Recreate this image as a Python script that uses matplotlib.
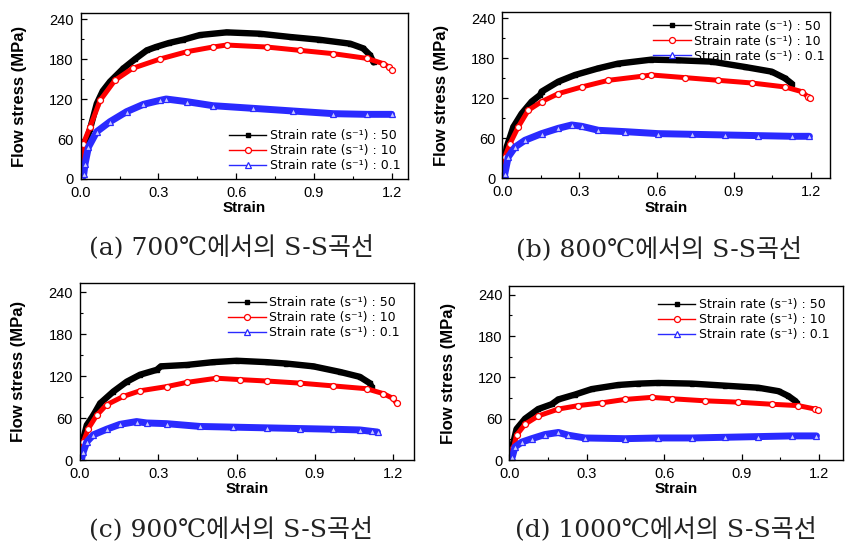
import matplotlib
matplotlib.use("Agg")
import matplotlib.pyplot as plt
from matplotlib.ticker import MultipleLocator

plt.rcParams['font.family'] = ['Liberation Sans', 'DejaVu Sans']

# ---------------- data ----------------
labels = ["Strain rate (s⁻¹) : 50", "Strain rate (s⁻¹) : 10", "Strain rate (s⁻¹) : 0.1"]
captions = ["(a) 700℃에서의 S-S곡선", "(b) 800℃에서의 S-S곡선",
            "(c) 900℃에서의 S-S곡선", "(d) 1000℃에서의 S-S곡선"]
x_ticks = [0.0, 0.3, 0.6, 0.9, 1.2]
y_ticks = [0, 60, 120, 180, 240]

# (a) 700 C
a50_x = [0.0, 0.008, 0.02, 0.036, 0.062, 0.085, 0.113, 0.165, 0.21, 0.255, 0.29, 0.34, 0.396, 0.46, 0.563, 0.69, 0.81, 0.92, 1.04, 1.09, 1.116, 1.13]
a50_y = [0, 35, 55, 75, 113, 132, 146, 166, 180, 193, 198, 204, 209, 216, 220, 218, 213, 209, 203, 196, 186, 175]
a10_x = [0.0, 0.01, 0.036, 0.075, 0.132, 0.2, 0.306, 0.41, 0.51, 0.563, 0.718, 0.846, 0.975, 1.104, 1.168, 1.19, 1.203]
a10_y = [0, 53, 78, 118, 148, 166, 180, 191, 198, 201, 198, 193, 188, 181, 173, 168, 163]
a01_x = [0.005, 0.012, 0.017, 0.03, 0.062, 0.113, 0.177, 0.242, 0.306, 0.33, 0.41, 0.51, 0.666, 0.82, 0.975, 1.104, 1.2]
a01_y = [0, 8, 23, 48, 71, 86, 101, 112, 118, 120, 116, 110, 106, 102, 98, 97, 97]

# (b) 800 C
b50_x = [0.0, 0.017, 0.043, 0.075, 0.114, 0.147, 0.153, 0.218, 0.283, 0.374, 0.45, 0.58, 0.685, 0.815, 0.944, 1.048, 1.1, 1.126]
b50_y = [0, 47, 77, 97, 115, 125, 130, 145, 155, 165, 172, 178, 177, 175, 167, 160, 150, 142]
b10_x = [0.0, 0.01, 0.03, 0.062, 0.101, 0.153, 0.218, 0.309, 0.413, 0.542, 0.58, 0.711, 0.84, 0.97, 1.1, 1.165, 1.19, 1.197]
b10_y = [0, 32, 52, 77, 102, 115, 127, 137, 147, 153, 155, 151, 147, 143, 137, 130, 122, 120]
b01_x = [0.005, 0.01, 0.023, 0.05, 0.088, 0.153, 0.218, 0.27, 0.309, 0.374, 0.477, 0.607, 0.737, 0.867, 0.996, 1.126, 1.195]
b01_y = [0, 7, 32, 47, 57, 67, 75, 80, 78, 72, 70, 67, 66, 65, 64, 63, 63]

# (c) 900 C
c50_x = [0.0, 0.013, 0.026, 0.051, 0.077, 0.128, 0.179, 0.23, 0.294, 0.31, 0.409, 0.51, 0.6, 0.715, 0.79, 0.894, 0.996, 1.072, 1.11, 1.117]
c50_y = [0, 31, 50, 64, 81, 98, 112, 122, 129, 134, 136, 140, 142, 140, 138, 134, 126, 119, 110, 105]
c10_x = [0.0, 0.013, 0.032, 0.064, 0.102, 0.166, 0.23, 0.332, 0.409, 0.523, 0.613, 0.715, 0.843, 0.97, 1.098, 1.162, 1.2, 1.213]
c10_y = [0, 26, 45, 64, 79, 91, 99, 105, 111, 117, 115, 113, 110, 106, 102, 95, 88, 81]
c01_x = [0.005, 0.013, 0.026, 0.051, 0.102, 0.153, 0.217, 0.255, 0.332, 0.46, 0.587, 0.715, 0.843, 0.97, 1.072, 1.117, 1.14]
c01_y = [0, 12, 26, 36, 44, 51, 55, 53, 52, 48, 47, 46, 45, 44, 43, 41, 40]

# (d) 1000 C
d50_x = [0.0, 0.016, 0.028, 0.061, 0.112, 0.164, 0.19, 0.254, 0.319, 0.422, 0.5, 0.578, 0.707, 0.836, 0.965, 1.043, 1.081, 1.107, 1.114]
d50_y = [0, 26, 45, 60, 74, 81, 88, 95, 103, 109, 111, 112, 111, 108, 105, 100, 93, 86, 83]
d10_x = [0.0, 0.016, 0.028, 0.061, 0.112, 0.19, 0.267, 0.358, 0.448, 0.552, 0.629, 0.758, 0.887, 1.017, 1.12, 1.185, 1.197]
d10_y = [0, 17, 36, 52, 64, 74, 79, 83, 88, 91, 89, 86, 84, 81, 79, 74, 72]
d01_x = [0.005, 0.012, 0.022, 0.048, 0.087, 0.138, 0.19, 0.229, 0.293, 0.448, 0.578, 0.707, 0.836, 0.965, 1.094, 1.19]
d01_y = [0, 5, 19, 26, 31, 37, 40, 36, 32, 31, 32, 32, 33, 34, 35, 35]

panels = [
    [(a50_x, a50_y), (a10_x, a10_y), (a01_x, a01_y)],
    [(b50_x, b50_y), (b10_x, b10_y), (b01_x, b01_y)],
    [(c50_x, c50_y), (c10_x, c10_y), (c01_x, c01_y)],
    [(d50_x, d50_y), (d10_x, d10_y), (d01_x, d01_y)],
]

# ---------------- layout / style ----------------
fig = plt.figure(figsize=(8.51, 5.5), dpi=100)
W, H = 851.0, 550.0
# (left, top, right, bottom) in pixels, xmax, ymax
boxes = [
    (80.7, 13.3, 408.0, 179.0, 1.263, 248.6),
    (502.3, 12.3, 830.0, 178.3, 1.275, 249.0),
    (80.0, 283.3, 414.3, 460.0, 1.281, 252.8),
    (509.3, 286.0, 843.3, 460.0, 1.294, 252.8),
]
leg_anchor = [(0.453, 0.30), (0.46, 0.955), (0.443, 0.927), (0.445, 0.93)]
cap_pos = [(231, 248), (659, 250), (231, 530), (666, 530)]

colors = ['black', 'red', '#2a2aff']
band_w = [4.6, 3.6, 5.0]
markers = [
    dict(marker='s', markersize=3.2, markerfacecolor='black', markeredgecolor='black'),
    dict(marker='o', markersize=4.3, markerfacecolor='white', markeredgecolor='red', markeredgewidth=0.9),
    dict(marker='^', markersize=4.3, markerfacecolor='#c8c8ff', markeredgecolor='#2a2aff', markeredgewidth=0.9),
]

for i, (l, t, r, b, xmax, ymax) in enumerate(boxes):
    ax = fig.add_axes([l / W, (H - b) / H, (r - l) / W, (b - t) / H])
    for k, ((xs, ys), lab) in enumerate(zip(panels[i], labels)):
        ax.plot(xs, ys, color=colors[k], lw=band_w[k], solid_capstyle='round',
                solid_joinstyle='round', zorder=2 + k * 0.1)
        ax.plot(xs, ys, linestyle='none', zorder=2.05 + k * 0.1, **markers[k])
        leg_style = dict(markers[k])
        if k == 2:
            leg_style['markerfacecolor'] = 'white'
        ax.plot([], [], color=colors[k], lw=1.0, label=lab, **leg_style)
    ax.set_xlim(0, xmax)
    ax.set_ylim(0, ymax)
    ax.set_xticks(x_ticks)
    ax.set_xticklabels([f"{v:.1f}" for v in x_ticks])
    ax.set_yticks(y_ticks)
    ax.xaxis.set_minor_locator(MultipleLocator(0.15))
    ax.yaxis.set_minor_locator(MultipleLocator(30))
    ax.tick_params(which='both', direction='in', top=False, right=False, labelsize=10.5, pad=5)
    ax.tick_params(which='major', length=4, width=0.9)
    ax.tick_params(which='minor', length=2.5, width=0.8)
    for sp in ax.spines.values():
        sp.set_linewidth(1.0)
    ax.set_xlabel("Strain", fontsize=11, fontweight='bold', labelpad=1)
    ax.set_ylabel("Flow stress (MPa)", fontsize=12, fontweight='bold',
                  family=['Liberation Sans Narrow', 'Liberation Sans'], labelpad=16)
    ax.legend(loc='upper left', bbox_to_anchor=leg_anchor[i], frameon=False,
              prop=dict(family=['DejaVu Sans'], size=9.0),
              handlelength=3.0, handletextpad=0.3, labelspacing=0.15,
              borderpad=0, borderaxespad=0)

for (cx, cy), cap in zip(cap_pos, captions):
    fig.text(cx / W, 1 - cy / H, cap, ha='center', va='center', fontsize=18,
             family=['DejaVu Serif', 'Noto Sans CJK KR'], fontweight='light', color='#222222')

fig.savefig("out.png", dpi=100)
